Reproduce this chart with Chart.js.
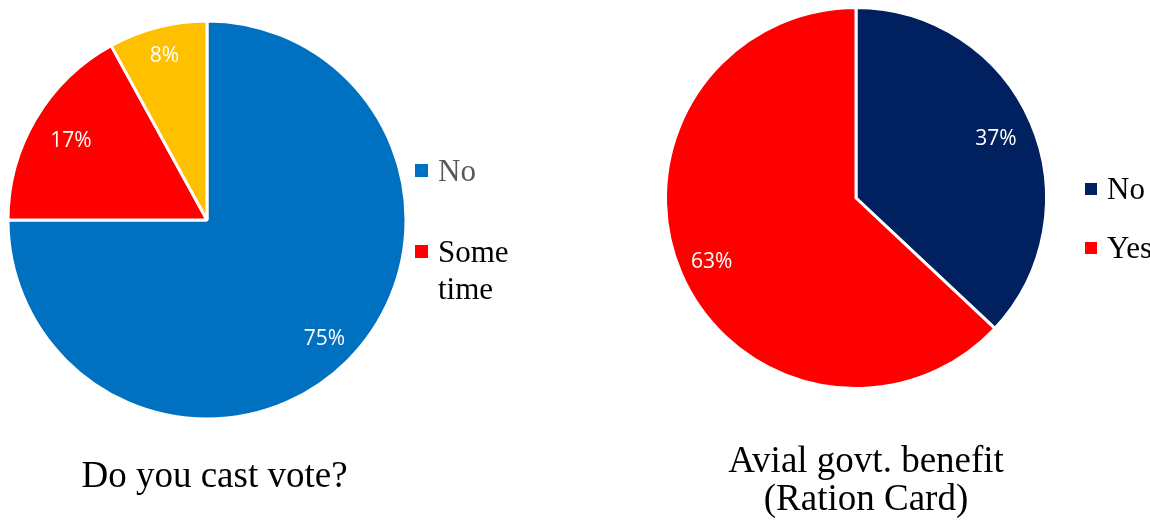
<!DOCTYPE html>
<html>
<head>
<meta charset="utf-8">
<script src="https://cdn.jsdelivr.net/npm/chart.js@4.4.1/dist/chart.umd.min.js"></script>
<style>
  html, body { margin: 0; padding: 0; background: #ffffff; }
  #wrap { position: relative; width: 1150px; height: 521px; overflow: hidden; }
  canvas { position: absolute; top: 0; }
</style>
</head>
<body>
<div id="wrap">
  <canvas id="vote" width="575" height="521" style="left:0"></canvas>
  <canvas id="ration" width="575" height="521" style="left:575px"></canvas>
</div>
<script>
// Survey answers, in percent
const voteCategories = ['No', 'Some time', 'Yes'];
const voteValues = [75, 17, 8];
const voteTitle = ['Do you cast vote?'];

const rationCategories = ['No', 'Yes'];
const rationValues = [37, 63];
const rationTitle = ['Avial govt. benefit', '(Ration Card)'];

// Percent labels placed inside each slice, along the slice's mid angle
const sliceLabels = {
  id: 'sliceLabels',
  afterDatasetsDraw(chart, args, opts) {
    const ctx = chart.ctx;
    const meta = chart.getDatasetMeta(0);
    const values = chart.data.datasets[0].data;
    const total = values.reduce((a, b) => a + b, 0);
    ctx.save();
    ctx.font = opts.size + "px " + opts.family;
    ctx.fillStyle = opts.color;
    ctx.textAlign = 'center';
    ctx.textBaseline = 'alphabetic';
    meta.data.forEach((arc, i) => {
      const p = arc.getProps(['x', 'y', 'startAngle', 'endAngle', 'outerRadius'], true);
      const mid = (p.startAngle + p.endAngle) / 2;
      const r = p.outerRadius * opts.offsets[i];
      const text = Math.round(values[i] / total * 100) + '%';
      // baseline set so the digits are centred on the anchor point
      ctx.fillText(text, p.x + Math.cos(mid) * r, p.y + Math.sin(mid) * r + opts.size * 0.37);
    });
    ctx.restore();
  }
};

// Legend drawn beside the pie, with word wrapping for long entries
const sideLegend = {
  id: 'sideLegend',
  afterDraw(chart, args, opts) {
    const ctx = chart.ctx;
    const labels = chart.data.labels.slice(0, opts.count);
    const colors = chart.data.datasets[0].backgroundColor;
    ctx.save();
    ctx.font = opts.font;
    ctx.textAlign = 'left';
    ctx.textBaseline = 'alphabetic';
    const wrap = (text) => {
      const words = text.split(' ');
      const lines = [];
      let line = '';
      words.forEach(w => {
        const test = line ? line + ' ' + w : w;
        if (line && ctx.measureText(test).width > opts.maxWidth) {
          lines.push(line);
          line = w;
        } else {
          line = test;
        }
      });
      if (line) lines.push(line);
      return lines;
    };
    labels.forEach((label, i) => {
      const base = opts.y + i * opts.gap;
      ctx.fillStyle = colors[i];
      ctx.fillRect(opts.x, base - opts.boxRise - opts.box, opts.box, opts.box);
      ctx.fillStyle = opts.textColors[i];
      wrap(label).forEach((line, j) => {
        ctx.fillText(line, opts.x + opts.box + opts.textGap, base + j * opts.lineHeight);
      });
    });
    ctx.restore();
  }
};

// Caption under the pie
const caption = {
  id: 'caption',
  afterDraw(chart, args, opts) {
    const ctx = chart.ctx;
    ctx.save();
    ctx.font = opts.font;
    ctx.fillStyle = opts.color;
    ctx.textAlign = 'center';
    ctx.textBaseline = 'alphabetic';
    opts.lines.forEach((line, i) => ctx.fillText(line, opts.x, opts.y + i * opts.lineHeight));
    ctx.restore();
  }
};

Chart.defaults.animation = false;

function pieChart(id, labels, values, colors, padding, radius, extra) {
  return new Chart(document.getElementById(id), {
    type: 'pie',
    data: {
      labels: labels,
      datasets: [{
        data: values,
        backgroundColor: colors,
        borderColor: '#ffffff',
        borderWidth: 3,
        hoverOffset: 0
      }]
    },
    options: {
      responsive: false,
      devicePixelRatio: 1,
      radius: radius,
      layout: { padding: padding },
      events: [],
      plugins: Object.assign({
        legend: { display: false },
        title: { display: false },
        tooltip: { enabled: false }
      }, extra)
    },
    plugins: [sliceLabels, sideLegend, caption]
  });
}

pieChart('vote', voteCategories, voteValues,
  ['#0070C0', '#FF0000', '#FFC000'],
  { left: 0, top: 0, right: 161, bottom: 81 }, 199,
  {
    sliceLabels: { size: 21, family: "'Open Sans'", color: '#ffffff', offsets: [0.835, 0.795, 0.86] },
    sideLegend: {
      count: 2, x: 415, y: 181, gap: 81, box: 13, boxRise: 4, textGap: 10,
      lineHeight: 36.5, maxWidth: 100, font: "31px 'Liberation Serif'",
      textColors: ['#595959', '#000000']
    },
    caption: { lines: voteTitle, x: 214.5, y: 487, lineHeight: 38, font: "37px 'Liberation Serif'", color: '#000000' }
  });

pieChart('ration', rationCategories, rationValues,
  ['#002060', '#FF0000'],
  { left: 91, top: 8, right: 104, bottom: 133 }, 190.5,
  {
    sliceLabels: { size: 21, family: "'Open Sans'", color: '#ffffff', offsets: [0.80, 0.825] },
    sideLegend: {
      count: 2, x: 510, y: 199, gap: 59, box: 12, boxRise: 4, textGap: 10,
      lineHeight: 36.5, maxWidth: 100, font: "31px 'Liberation Serif'",
      textColors: ['#000000', '#000000']
    },
    caption: { lines: rationTitle, x: 291, y: 472, lineHeight: 38, font: "37px 'Liberation Serif'", color: '#000000' }
  });
</script>
</body>
</html>
